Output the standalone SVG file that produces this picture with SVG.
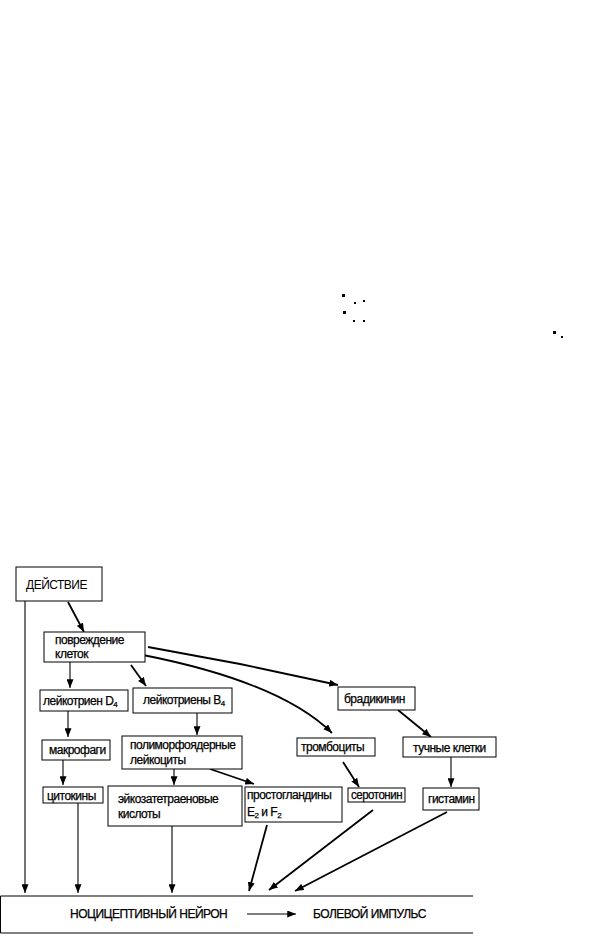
<svg xmlns="http://www.w3.org/2000/svg" width="595" height="934" viewBox="0 0 595 934">
<defs>
<marker id="ah" viewBox="0 0 10 8" refX="10" refY="4" markerWidth="9" markerHeight="7" markerUnits="userSpaceOnUse" orient="auto">
<path d="M0,0 L10,4 L0,8 Z" fill="#000"/>
</marker>
</defs>
<style>
.box{fill:#fff;stroke:#000;stroke-width:1}
.t{font-family:"Liberation Sans",Arial,sans-serif;font-size:12px;fill:#000;letter-spacing:-0.5px;stroke:#000;stroke-width:0.25}
.ca{fill:none;stroke:#000;stroke-width:1.1;marker-end:url(#ah)}
.cd{fill:none;stroke:#000;stroke-width:1.8;marker-end:url(#ah)}
.sub{font-size:8px}
</style>
<rect width="595" height="934" fill="#fff"/>
<g id="specks" fill="#000">
<rect x="342" y="294" width="3" height="3"/><rect x="354" y="302" width="2" height="2"/><rect x="363" y="300" width="2" height="2"/>
<rect x="343" y="311" width="3" height="3"/><rect x="353" y="320" width="2" height="2"/><rect x="363" y="320" width="2" height="2"/>
<rect x="553" y="331" width="3" height="3"/><rect x="561" y="336" width="2" height="2"/>
</g>
<g id="connectors">
<path class="ca" d="M25,601 V893"/>
<path class="cd" d="M68,602 L84,632"/>
<path class="ca" d="M70,662 V688"/>
<path class="cd" d="M131,665 L146,686"/>
<path class="cd" d="M148,647 L240,664 L338,685"/>
<path class="cd" d="M143,655 Q280,682 332,733"/>
<path class="cd" d="M398,710 L431,737"/>
<path class="ca" d="M68,711 V737"/>
<path class="ca" d="M197,713 V735"/>
<path class="cd" d="M343,762 L359,787"/>
<path class="ca" d="M451,757 V787"/>
<path class="ca" d="M63,760 V785"/>
<path class="ca" d="M174,769 V785"/>
<path class="cd" d="M210,769 L254,784"/>
<path class="ca" d="M78,803 V893"/>
<path class="ca" d="M172,826 V893"/>
<path class="cd" d="M267,825 L249,891"/>
<path class="cd" d="M373,810 L269,890"/>
<path class="cd" d="M447,812 L295,891"/>
<path class="ca" d="M247,914 H296" style="stroke-width:1"/>
</g>
<g id="n-deistvie"><rect class="box" x="16" y="567" width="86" height="34"/><text class="t" x="26" y="589" font-size="13" style="stroke-width:0">ДЕЙСТВИЕ</text></g>
<g id="n-povrezhdenie"><rect class="box" x="44" y="632" width="101" height="30"/><text class="t" x="55" y="644">повреждение</text><text class="t" x="55" y="658">клеток</text></g>
<g id="n-leikotrien-d4"><rect class="box" x="40" y="690" width="88" height="21"/><text class="t" x="43" y="705">лейкотриен D<tspan class="sub" dy="2">4</tspan></text></g>
<g id="n-leikotrieny-b4"><rect class="box" x="133" y="688" width="99" height="25"/><text class="t" x="143" y="704">лейкотриены B<tspan class="sub" dy="2">4</tspan></text></g>
<g id="n-bradikinin"><rect class="box" x="338" y="687" width="77" height="23"/><text class="t" x="344" y="703">брадикинин</text></g>
<g id="n-makrofagi"><rect class="box" x="42" y="740" width="68" height="20"/><text class="t" x="49" y="754">макрофаги</text></g>
<g id="n-polimorf"><rect class="box" x="122" y="736" width="120" height="33"/><text class="t" x="130" y="749">полиморфоядерные</text><text class="t" x="130" y="764">лейкоциты</text></g>
<g id="n-trombocity"><rect class="box" x="297" y="738" width="78" height="18"/><text class="t" x="301" y="751">тромбоциты</text></g>
<g id="n-tuchnye"><rect class="box" x="403" y="737" width="93" height="20"/><text class="t" x="413" y="752">тучные клетки</text></g>
<g id="n-citokiny"><rect class="box" x="43" y="787" width="60" height="16"/><text class="t" x="47" y="800">цитокины</text></g>
<g id="n-eikoz"><rect class="box" x="108" y="786" width="134" height="40"/><text class="t" x="118" y="803" font-size="13">эйкозатетраеновые</text><text class="t" x="118" y="818" font-size="13">кислоты</text></g>
<g id="n-prostoglandiny"><rect class="box" x="245" y="787" width="97" height="35"/><text class="t" x="247" y="799">простогландины</text><text class="t" x="247" y="816">E<tspan class="sub" dy="2">2</tspan><tspan dy="-2"> и F</tspan><tspan class="sub" dy="2">2</tspan></text></g>
<g id="n-serotonin"><rect class="box" x="348" y="788" width="57" height="14"/><text class="t" x="351" y="799" font-size="10.5" textLength="51" lengthAdjust="spacingAndGlyphs">серотонин</text></g>
<g id="n-gistamin"><rect class="box" x="423" y="788" width="56" height="22"/><text class="t" x="428" y="803">гистамин</text></g>
<g id="n-neuron">
<path d="M473,896 H0.5 V933 H473" fill="none" stroke="#000" stroke-width="1"/>
<text class="t" x="70" y="918">НОЦИЦЕПТИВНЫЙ НЕЙРОН</text>
<text class="t" x="313" y="918">БОЛЕВОЙ ИМПУЛЬС</text>
</g>
</svg>
